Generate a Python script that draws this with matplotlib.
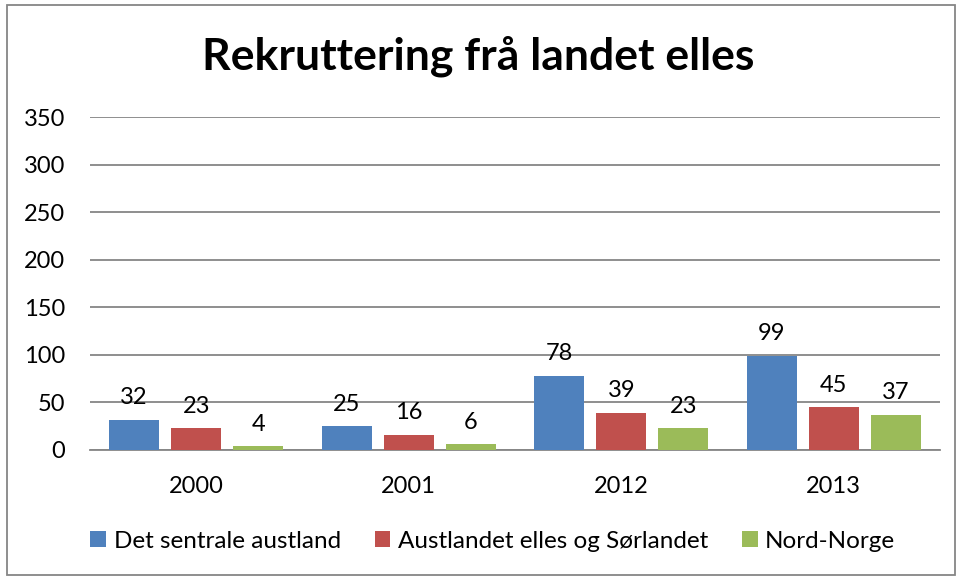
import numpy as np
import matplotlib
matplotlib.use("Agg")
import matplotlib.pyplot as plt
from matplotlib.patches import Rectangle

plt.rcParams['font.family'] = ['Lato', 'DejaVu Sans']

years = ['2000', '2001', '2012', '2013']
series_names = ['Det sentrale austland', 'Austlandet elles og Sørlandet', 'Nord-Norge']
sentrale = [32, 25, 78, 99]
austlandet = [23, 16, 39, 45]
nord = [4, 6, 23, 37]
colors = ['#4F81BD', '#C0504D', '#9BBB59']

fig = plt.figure(figsize=(9.57, 5.78), dpi=100)
# plot area in pixels: x 90..940, y 117..450
ax = fig.add_axes([90 / 957, 1 - 450 / 578, 850 / 957, 333 / 578])

x = np.arange(len(years))
width = 50 / 212
step = 62 / 212
for i, (vals, col, name) in enumerate(zip([sentrale, austlandet, nord], colors, series_names)):
    bars = ax.bar(x + (i - 1) * step, vals, width, color=col, label=name, zorder=3)
    for b, v in zip(bars, vals):
        ax.text(b.get_x() + b.get_width() / 2, v + 12, str(v), ha='center', va='bottom',
                fontsize=17, zorder=4)

ax.set_xlim(-0.5, 3.5)
ax.set_ylim(0, 350)
ax.set_yticks(range(0, 351, 50))
ax.yaxis.grid(True, color='#868686', linewidth=1.3, zorder=0)
ax.set_axisbelow(True)
for s in ['top', 'right', 'left']:
    ax.spines[s].set_visible(False)
ax.spines['bottom'].set_color('#868686')
ax.spines['bottom'].set_linewidth(1.3)
ax.set_xticks(x)
ax.set_xticklabels(years)
ax.tick_params(axis='both', length=0, labelsize=17)
ax.tick_params(axis='x', pad=19)
ax.tick_params(axis='y', pad=18)

fig.text(0.5, 1 - 56 / 578, 'Rekruttering frå landet elles', ha='center', va='center',
         fontsize=32, fontweight='bold')

fig.legend(loc='center', bbox_to_anchor=(0.515, 1 - 541 / 578), ncol=3, frameon=False,
           fontsize=17.5, handlelength=0.65, handleheight=0.65, handletextpad=0.3,
           columnspacing=1.4)

fig.patches.append(Rectangle((7 / 957, 3 / 578), 948 / 957, 570 / 578, transform=fig.transFigure,
                             fill=False, edgecolor='#868686', linewidth=1.3))

fig.savefig('out.png', dpi=100)
